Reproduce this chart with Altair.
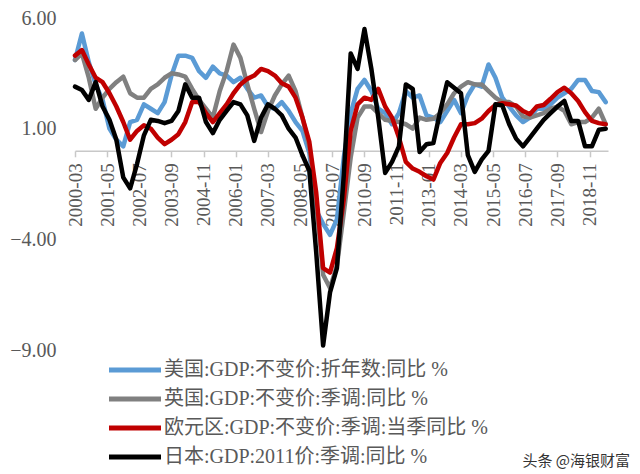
import altair as alt
import pandas as pd

# quarterly observations 2000-03 .. 2019-06
quarters = [f"{y}-{m:02d}" for y in range(2000, 2020) for m in (3, 6, 9, 12)][:78]

names = [
    "美国:GDP:不变价:折年数:同比 %",
    "英国:GDP:不变价:季调:同比 %",
    "欧元区:GDP:不变价:季调:当季同比 %",
    "日本:GDP:2011价:季调:同比 %",
]
colors = ["#5B9BD5", "#808080", "#C00000", "#000000"]

us = [
    4.1, 5.3, 4.0, 3.0,
    2.3, 1.0, 0.5, 0.2,
    1.3, 1.4, 2.1, 1.9,
    1.7, 2.2, 3.4, 4.3,
    4.3, 4.2, 3.6, 3.3,
    3.8, 3.5, 3.4, 3.1,
    3.3, 2.8, 2.4, 2.5,
    2.0, 1.9, 2.2, 1.8,
    1.3, 0.9, -0.1, -2.7,
    -3.3, -3.8, -3.1, -0.3,
    1.7, 2.8, 3.2, 2.7,
    1.9, 1.7, 1.2, 1.7,
    2.7, 2.4, 2.5, 1.6,
    1.5, 1.3, 1.8, 2.3,
    1.7, 2.5, 3.0, 2.9,
    3.9, 3.3, 2.4, 2.0,
    1.6, 1.3, 1.5, 1.9,
    1.9, 2.1, 2.4, 2.6,
    2.8, 3.2, 3.2, 2.7,
    2.65, 2.2,
]
uk = [
    4.1, 4.4, 3.3, 1.9,
    2.4, 2.8, 3.1, 3.35,
    2.6, 2.4, 2.4, 2.8,
    3.0, 3.3, 3.5, 3.45,
    3.35, 2.8, 2.3, 1.9,
    1.5, 2.7, 3.6, 4.8,
    4.2, 3.0, 1.9, 0.85,
    1.8, 2.5, 3.0, 3.4,
    2.7, 1.5, 0.2, -2.3,
    -5.6, -6.2, -5.2, -2.8,
    -0.3, 1.5, 2.0, 2.0,
    1.7, 1.4, 1.35, 1.3,
    1.2, 1.0, 1.5, 1.4,
    1.45, 1.7, 2.1, 2.6,
    2.9, 3.1, 3.0, 3.0,
    2.7, 2.4, 2.2, 2.2,
    2.0, 1.55, 1.5, 1.6,
    1.7, 1.9, 2.0, 1.8,
    1.2, 1.3, 1.3, 1.5,
    1.9, 1.2,
]
eu = [
    4.3, 4.55, 3.9, 3.3,
    3.1, 2.6, 2.0, 1.3,
    0.5, 0.9, 1.15, 1.0,
    0.6, 0.3, 0.5, 0.75,
    1.3, 2.2, 2.2, 1.7,
    1.3, 1.7, 2.1, 2.6,
    3.0, 3.25, 3.4, 3.7,
    3.6, 3.4, 3.05, 2.9,
    2.4, 1.5, 0.4, -1.9,
    -5.3, -5.5, -4.4, -2.2,
    0.9, 2.1, 2.4, 2.3,
    2.8, 2.0, 1.5, 0.6,
    -0.5, -0.8, -0.95, -1.15,
    -1.3, -0.55, -0.1, 0.6,
    1.2, 1.2, 1.25, 1.45,
    1.8, 2.07, 2.15, 2.1,
    2.05, 1.8, 1.65, 2.0,
    2.07, 2.35, 2.65, 2.85,
    2.6, 2.25, 1.75, 1.35,
    1.25, 1.2,
]
jp = [
    2.9, 2.75, 2.3, 3.1,
    2.0, 1.4, 0.5, -1.2,
    -1.7, -0.6, 0.7, 1.4,
    1.35, 1.25, 1.35, 1.8,
    3.0, 2.4, 2.4, 1.3,
    0.8, 1.4, 1.8, 2.2,
    2.1, 1.6, 0.45, 1.5,
    2.1, 1.9, 1.6, 1.0,
    0.6, -0.2, -0.9, -4.6,
    -8.8, -6.4, -5.3, -1.1,
    4.4, 3.7, 5.5, 3.7,
    1.5, -1.0, -0.5, 0.2,
    3.0, 2.8, -0.05, 0.3,
    0.35, 1.8, 3.1, 2.85,
    2.6, -0.2, -0.95, -0.4,
    0.0, 2.1, 2.05, 1.2,
    0.55, 0.2, 0.6, 1.0,
    1.4, 1.7, 2.0, 2.25,
    1.35, 1.35, 0.2, 0.2,
    0.95, 1.0,
]
series_values = [us, uk, eu, jp]

y_ticks = [-9, -4, 1, 6]
x_tick_months = list(range(0, 225, 14))  # 2000-03, 2001-05, ... 2018-11

rows = []
for nm, vals in zip(names, series_values):
    for q, v in zip(quarters, vals):
        yy, mm = int(q[:4]), int(q[5:])
        rows.append({"series": nm, "date": q, "m": (yy - 2000) * 12 + mm - 3, "v": v})
df = pd.DataFrame(rows)

W, H = 533, 332
FONT_NUM = "Liberation Serif"
FONT_LEG = "Liberation Serif, Noto Sans CJK SC"
GREY_TXT = "#595959"

color_scale = alt.Scale(domain=names, range=colors)

x_enc = alt.X(
    "m:Q",
    scale=alt.Scale(domain=[0, 232], nice=False, zero=False),
    axis=alt.Axis(
        values=x_tick_months,
        labelExpr="(floor((datum.value+2)/12)+2000) + '-' + (((datum.value+2)%12+1) < 10 ? '0' : '') + ((datum.value+2)%12+1)",
        labelAngle=-90,
        offset=-H * 9 / 15,
        domainColor="#C8C8C8",
        domainWidth=1.5,
        tickColor="#C8C8C8",
        tickWidth=1.5,
        tickSize=6,
        labelFont=FONT_NUM,
        labelFontSize=19,
        labelColor=GREY_TXT,
        labelPadding=6,
        labelFlush=False,
        labelOverlap=False,
        grid=False,
        title=None,
    ),
)
y_enc = alt.Y(
    "v:Q",
    scale=alt.Scale(domain=[-9, 6], nice=False, zero=False),
    axis=alt.Axis(
        values=y_ticks,
        format=".2f",
        domain=False,
        ticks=False,
        grid=False,
        labelFont=FONT_NUM,
        labelFontSize=20,
        labelColor=GREY_TXT,
        labelPadding=19,
        title=None,
    ),
)
legend = alt.Legend(
    title=None,
    orient="none",
    legendX=50,
    legendY=342,
    symbolType="M-5.2,0H5.2",
    symbolSize=100,
    symbolStrokeWidth=5,
    labelFont=FONT_LEG,
    labelFontSize=20,
    labelColor=GREY_TXT,
    labelOffset=19,
    labelLimit=0,
    rowPadding=9,
    padding=0,
)

layers = []
for nm in names:
    layers.append(
        alt.Chart(df)
        .transform_filter(alt.datum.series == nm)
        .mark_line(strokeWidth=4.5, strokeJoin="round", strokeCap="round")
        .encode(
            x=x_enc,
            y=y_enc,
            color=alt.Color("series:N", scale=color_scale, legend=legend),
        )
    )

watermark = (
    alt.Chart(pd.DataFrame({"t": ["头条 @海银财富"]}))
    .mark_text(align="right", baseline="middle", fontSize=15, color="#333333", font="Noto Sans CJK SC")
    .encode(x=alt.value(555), y=alt.value(443), text="t:N")
)

chart = (
    alt.layer(*layers, watermark)
    .properties(
        width=W,
        height=H,
        autosize=alt.AutoSizeParams(type="none"),
        padding={"left": 75, "top": 18, "right": 32, "bottom": 124},
        background="white",
    )
    .configure_view(stroke=None)
)

chart.save("out.html", embed_options={"renderer": "svg", "actions": False})
